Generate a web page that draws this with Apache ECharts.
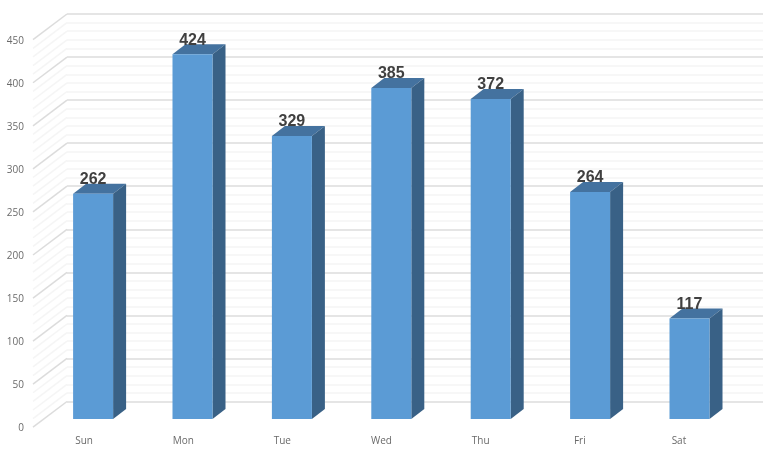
<!DOCTYPE html>
<html><head><meta charset="utf-8">
<style>html,body{margin:0;padding:0;background:#fff}#c{width:770px;height:453px}</style>
<script src="https://cdn.jsdelivr.net/npm/echarts@6/dist/echarts.min.js"></script>
</head><body><div id="c"></div>
<script>
const categories = ['Sun','Mon','Tue','Wed','Thu','Fri','Sat'];
const values = [262,424,329,385,372,264,117];
const wallTicks = [0,10,20,30,40,50,60,70,80,90,100,110,120,130,140,150,160,170,180,190,200,210,220,230,240,250,260,270,280,290,300,310,320,330,340,350,360,370,380,390,400,410,420,430,440,450];
const AX = {min:0,max:450,interval:50};
const chart = echarts.init(document.getElementById('c'),null,{renderer:'canvas'});
const labelFont = '"Open Sans","Liberation Sans",sans-serif';
chart.setOption({
  animation:false,
  backgroundColor:'#fff',
  grid:[
    {left:34.5,right:41.5,top:41,bottom:25},  // front edge of the walls: axis labels
    {left:43.4,right:30.8,top:32,bottom:34},  // plane of the bar faces
    {left:67,right:7,top:14,bottom:51.5}      // back wall
  ],
  xAxis:[
    {gridIndex:0,type:'category',data:categories,axisLine:{show:false},axisTick:{show:false},
     axisLabel:{color:'#6a6a6a',fontSize:10,fontFamily:labelFont,margin:8},splitLine:{show:false}},
    {gridIndex:1,type:'category',data:categories,show:false},
    {gridIndex:2,type:'category',data:categories,show:false}
  ],
  yAxis:[
    Object.assign({gridIndex:0,type:'value',axisLine:{show:false},axisTick:{show:false},splitLine:{show:false},
     axisLabel:{color:'#6a6a6a',fontSize:10,fontFamily:labelFont,margin:10.5}},AX),
    Object.assign({gridIndex:1,type:'value',show:false,splitLine:{show:false}},AX),
    Object.assign({gridIndex:2,type:'value',axisLine:{show:false},axisTick:{show:false},axisLabel:{show:false},
     splitLine:{show:true,lineStyle:{color:'#dcdcdc',width:1.5}},
     minorTick:{show:false,splitNumber:5},
     minorSplitLine:{show:true,lineStyle:{color:'#f5f5f5',width:1.5}}},AX)
  ],
  series:[
    { // left wall diagonals
      type:'custom',xAxisIndex:2,yAxisIndex:2,coordinateSystem:'cartesian2d',silent:true,z:1,
      data:wallTicks.map(v=>[0,v]),encode:{x:0,y:1},clip:false,
      renderItem(p,api){
        const v=api.value(1), y=api.coord([0,v])[1], x=67;
        return {type:'line',shape:{x1:x-34,y1:y+25.7,x2:x,y2:y},
          style:{stroke:v%50===0?'#dcdcdc':'#f5f5f5',lineWidth:1.5}};
      }
    },
    { // bar depth: top and side faces
      type:'custom',xAxisIndex:1,yAxisIndex:1,coordinateSystem:'cartesian2d',silent:true,z:2,
      data:values.map((v,i)=>[i,v]),encode:{x:0,y:1},clip:false,
      renderItem(p,api){
        const t=api.coord([api.value(0),api.value(1)]), b=api.coord([api.value(0),0]);
        const l=t[0]-20,r=t[0]+20,dx=13,dy=-10;
        return {type:'group',children:[
          {type:'polygon',shape:{points:[[l,t[1]],[r,t[1]],[r+dx,t[1]+dy],[l+dx,t[1]+dy]]},style:{fill:'#44729F'}},
          {type:'polygon',shape:{points:[[r,t[1]],[r+dx,t[1]+dy],[r+dx,b[1]+dy],[r,b[1]]]},style:{fill:'#396186'}}
        ]};
      }
    },
    {
      type:'bar',xAxisIndex:1,yAxisIndex:1,data:values,barWidth:40,z:3,
      itemStyle:{color:'#5B9BD5'},
      label:{show:true,position:'top',distance:6,color:'#404040',fontSize:16,fontWeight:'bold',
        fontFamily:'"Liberation Sans",sans-serif'}
    }
  ]
});
</script></body></html>
